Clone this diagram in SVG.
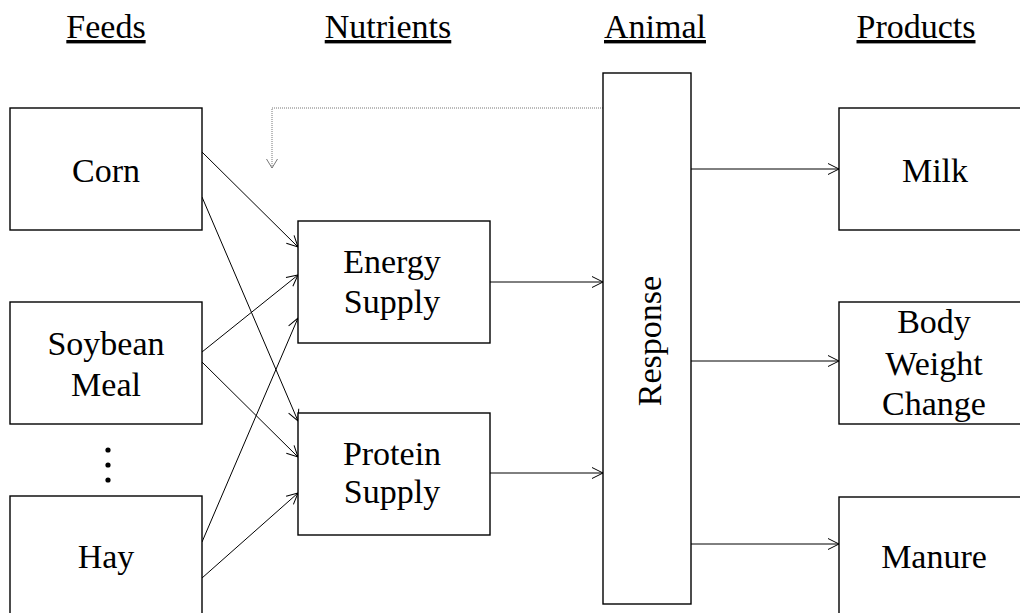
<svg xmlns="http://www.w3.org/2000/svg" width="1020" height="613" viewBox="0 0 1020 613">
  <style>
    text { font-family: "Liberation Serif", "Times New Roman", serif; font-size: 34px; fill: #000; text-anchor: middle; }
    .hdr { text-decoration: underline; }
    .box { fill: #fff; stroke: #000; stroke-width: 1.4; }
    .link { fill: none; stroke: #000; stroke-width: 1; marker-end: url(#arrow); }
    .feedback { fill: none; stroke: #777; stroke-width: 1; stroke-dasharray: 1 1; marker-end: url(#arrowGray); }
  </style>
  <defs>
    <marker id="arrow" markerUnits="userSpaceOnUse" markerWidth="12" markerHeight="12" refX="11" refY="5.5" orient="auto" overflow="visible">
      <path d="M0,0 L11,5.5 L0,11" fill="none" stroke="#000" stroke-width="1"/>
    </marker>
    <marker id="arrowGray" markerUnits="userSpaceOnUse" markerWidth="12" markerHeight="12" refX="9" refY="5.5" orient="auto" overflow="visible">
      <path d="M0,0 L9,5.5 L0,11" fill="none" stroke="#777" stroke-width="1"/>
    </marker>
  </defs>

  <rect width="1020" height="613" fill="#fff"/>

  <!-- column headings -->
  <g id="headings">
    <text class="hdr" x="106" y="38">Feeds</text>
    <text class="hdr" x="388" y="38">Nutrients</text>
    <text class="hdr" x="655" y="38">Animal</text>
    <text class="hdr" x="916" y="38">Products</text>
  </g>

  <!-- connectors -->
  <g id="connectors">
    <!-- feeds to nutrients -->
    <line class="link" x1="202" y1="152" x2="298" y2="247"/>
    <line class="link" x1="202" y1="197" x2="298" y2="421"/>
    <line class="link" x1="202" y1="352" x2="298" y2="275"/>
    <line class="link" x1="202" y1="362" x2="298" y2="457"/>
    <line class="link" x1="202" y1="542" x2="298" y2="318"/>
    <line class="link" x1="202" y1="578" x2="298" y2="493"/>
    <!-- nutrients to animal -->
    <line class="link" x1="490" y1="282" x2="603" y2="282"/>
    <line class="link" x1="490" y1="473" x2="603" y2="473"/>
    <!-- animal to products -->
    <line class="link" x1="691" y1="169" x2="839" y2="169"/>
    <line class="link" x1="691" y1="361" x2="839" y2="361"/>
    <line class="link" x1="691" y1="544" x2="839" y2="544"/>
    <!-- feedback from the animal -->
    <path class="feedback" d="M603,108 L272,108 L272,168"/>
  </g>

  <!-- feeds -->
  <g id="corn">
    <rect class="box" x="10" y="108" width="192" height="122"/>
    <text x="106" y="182">Corn</text>
  </g>
  <g id="soybean-meal">
    <rect class="box" x="10" y="302" width="192" height="122"/>
    <text x="106" y="355">Soybean</text>
    <text x="106" y="396">Meal</text>
  </g>
  <g id="more-feeds">
    <circle cx="108" cy="450" r="2.6" fill="#000"/>
    <circle cx="108" cy="465" r="2.6" fill="#000"/>
    <circle cx="108" cy="480" r="2.6" fill="#000"/>
  </g>
  <g id="hay">
    <rect class="box" x="10" y="496" width="192" height="124"/>
    <text x="106" y="568">Hay</text>
  </g>

  <!-- nutrients -->
  <g id="energy-supply">
    <rect class="box" x="298" y="221" width="192" height="122"/>
    <text x="392" y="273">Energy</text>
    <text x="392" y="313">Supply</text>
  </g>
  <g id="protein-supply">
    <rect class="box" x="298" y="413" width="192" height="122"/>
    <text x="392" y="465">Protein</text>
    <text x="392" y="503">Supply</text>
  </g>

  <!-- animal -->
  <g id="response">
    <rect class="box" x="603" y="73" width="88" height="531"/>
    <text transform="translate(661,341) rotate(-90)">Response</text>
  </g>

  <!-- products -->
  <g id="milk">
    <rect class="box" x="839" y="108" width="192" height="122"/>
    <text x="935" y="182">Milk</text>
  </g>
  <g id="body-weight-change">
    <rect class="box" x="839" y="302" width="192" height="122"/>
    <text x="934" y="333">Body</text>
    <text x="934" y="375">Weight</text>
    <text x="934" y="415">Change</text>
  </g>
  <g id="manure">
    <rect class="box" x="839" y="497" width="192" height="124"/>
    <text x="934" y="568">Manure</text>
  </g>
</svg>
